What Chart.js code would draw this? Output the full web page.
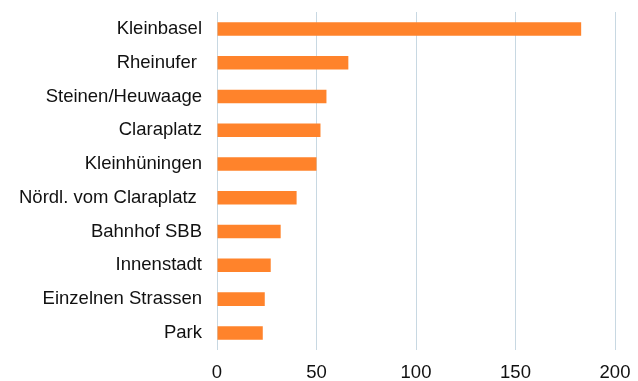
<!DOCTYPE html>
<html>
<head>
<meta charset="utf-8">
<script src="https://cdn.jsdelivr.net/npm/chart.js@4"></script>
<style>
  body { margin: 0; background: #fff; }
  #wrap { width: 638px; height: 381px; }
</style>
</head>
<body>
<div id="wrap"><canvas id="myChart" width="638" height="381"></canvas></div>
<script>
// categories, top to bottom
var orte = ["Kleinbasel", "Rheinufer ", "Steinen/Heuwaage", "Claraplatz", "Kleinhüningen",
  "Nördl. vom Claraplatz ", "Bahnhof SBB", "Innenstadt", "Einzelnen Strassen", "Park"];
var anzahl = [183, 66, 55, 52, 50, 40, 32, 27, 24, 23];
var xTicks = [0, 50, 100, 150, 200];

var barColor = "#FF832B";
var gridColor = "#C8D8E2";

function noAxisPadding(axis) {
  axis.paddingTop = 0;
  axis.paddingBottom = 0;
  axis.paddingLeft = 0;
  axis.paddingRight = 0;
}

new Chart("myChart", {
  type: "bar",
  data: {
    labels: orte,
    datasets: [
      {
        data: anzahl,
        backgroundColor: barColor,
        borderWidth: 0,
        barPercentage: 0.4,
        categoryPercentage: 1
      }
    ]
  },
  options: {
    indexAxis: "y",
    responsive: false,
    animation: false,
    layout: { padding: { top: 12, right: 23, bottom: -15, left: 4 } },
    plugins: {
      legend: { display: false },
      tooltip: { enabled: false }
    },
    scales: {
      x: {
        min: 0,
        max: 200,
        afterBuildTicks: function (axis) {
          axis.ticks = xTicks.map(function (v) { return { value: v }; });
        },
        afterFit: noAxisPadding,
        grid: { color: gridColor, lineWidth: 1, drawTicks: false },
        border: { display: false },
        ticks: {
          color: "#111",
          padding: 12,
          font: { family: "Liberation Sans, Arial, sans-serif", size: 18.5 }
        }
      },
      y: {
        afterFit: noAxisPadding,
        grid: { display: false, drawTicks: false },
        border: { display: false },
        ticks: {
          color: "#111",
          padding: 15,
          font: { family: "Liberation Sans, Arial, sans-serif", size: 18.5 }
        }
      }
    }
  }
});
</script>
</body>
</html>
